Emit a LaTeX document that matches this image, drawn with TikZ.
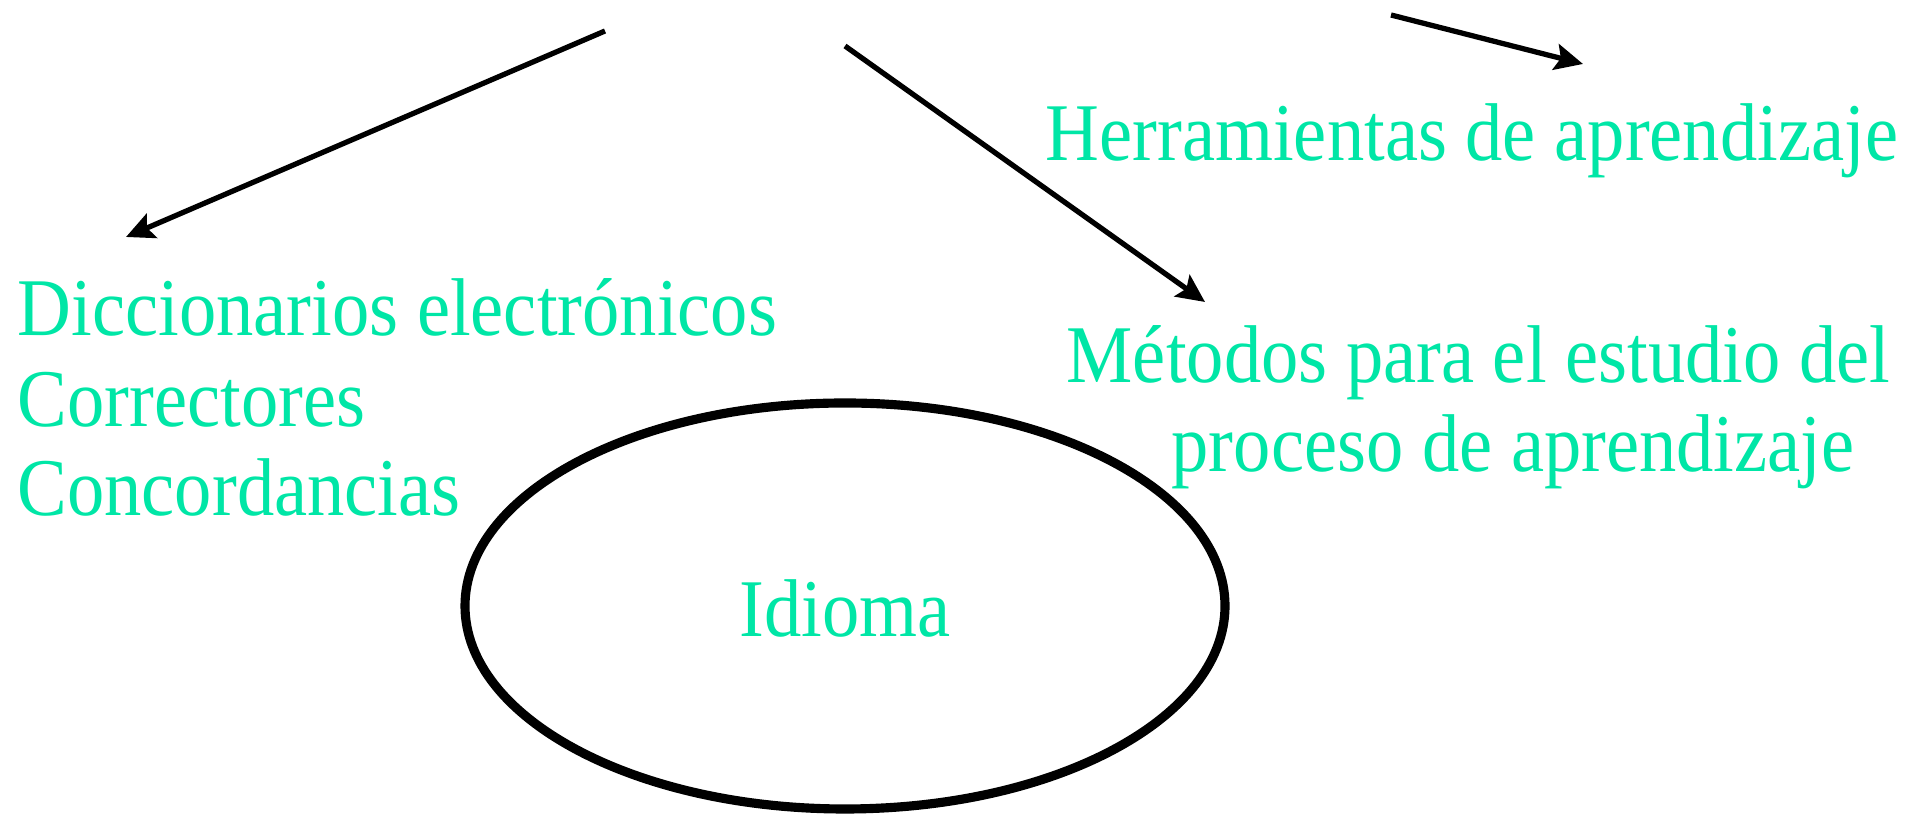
\documentclass[tikz,border=0pt]{standalone}
\usepackage{fontspec}
\setmainfont{Liberation Serif}
\usetikzlibrary{shapes.geometric,arrows.meta}
\definecolor{menta}{RGB}{0,230,166}
\tikzset{
    rama/.style={line width=1.5pt, -{Stealth[length=8pt,width=7.5pt,inset=1.5pt]}},
    etiqueta/.style={text=menta, inner sep=0pt, font=\fontsize{21.2}{25.6}\selectfont},
    alta/.style={yscale=1.1, transform shape},
}
\begin{document}
\begin{tikzpicture}
    \useasboundingbox (0,0) rectangle (19.17,8.15);

    % Texts
    \node[etiqueta, alta, anchor=base west] (herr) at (10.45,6.54) {Herramientas de aprendizaje};
    \node[etiqueta, alta, anchor=base west] (dicc) at (0.17,4.79) {Diccionarios electrónicos};
    \node[etiqueta, alta, anchor=base west] (corr) at (0.17,3.88) {Correctores};
    \node[etiqueta, alta, anchor=base west] (conc) at (0.17,2.99) {Concordancias};
    \node[etiqueta, alta, anchor=base west] (meto) at (10.66,4.32) {Métodos para el estudio del};
    \node[etiqueta, alta, anchor=base west] (proc) at (11.71,3.43) {proceso de aprendizaje};

    % The ellipse
    \node[ellipse, draw=black, line width=2.6pt,
          minimum width=7.6cm, minimum height=4.06cm] (idioma) at (8.45,2.09) {};
    \node[etiqueta, alta, anchor=base] (idiomatxt) at (8.45,1.78) {Idioma};

    % Arrows
    \coordinate (ini1) at (6.05,7.84);
    \coordinate (fin1) at (1.26,5.78);
    \coordinate (ini2) at (8.45,7.69);
    \coordinate (fin2) at (12.05,5.13);
    \coordinate (ini3) at (13.91,8.00);
    \coordinate (fin3) at (15.83,7.51);
    \draw[rama] (ini1) -- (fin1);
    \draw[rama] (ini2) -- (fin2);
    \draw[rama] (ini3) -- (fin3);
\end{tikzpicture}
\end{document}
